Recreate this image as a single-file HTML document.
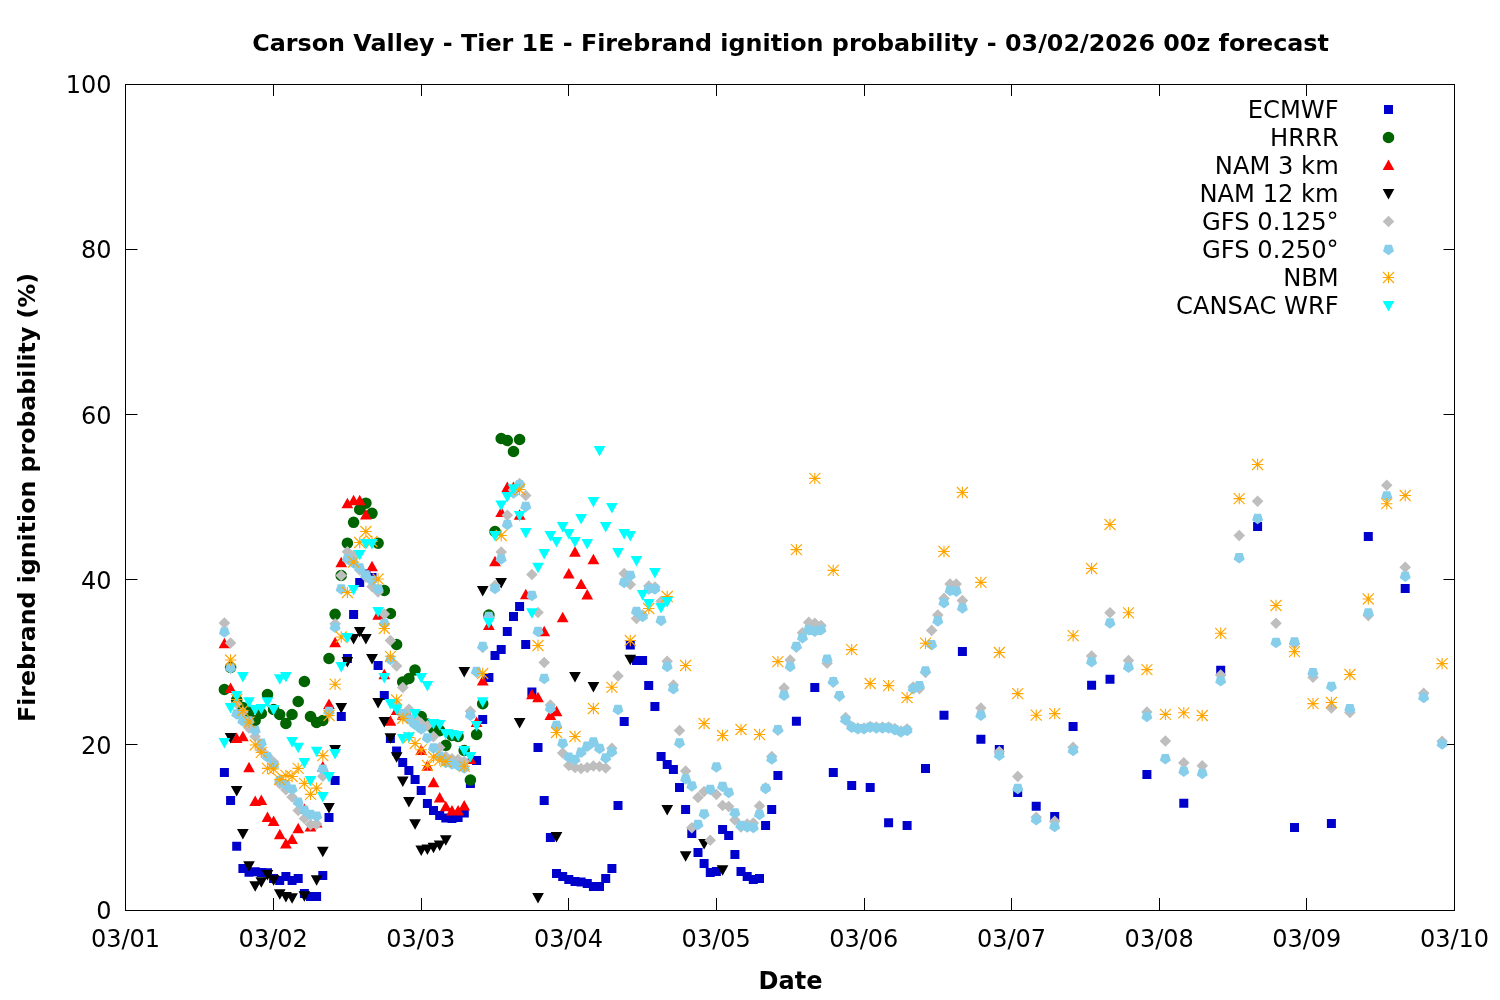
<!DOCTYPE html>
<html lang="en"><head><meta charset="utf-8"><title>Carson Valley - Tier 1E - Firebrand ignition probability</title>
<style>html,body{margin:0;padding:0;background:#fff}svg{display:block}text{font-family:"DejaVu Sans","Liberation Sans",sans-serif;fill:#000}</style></head><body>
<svg width="1500" height="1000" viewBox="0 0 1500 1000">
<rect width="1500" height="1000" fill="#fff"/>
<text x="790.6" y="51" text-anchor="middle" font-size="23.82" font-weight="bold">Carson Valley - Tier 1E - Firebrand ignition probability - 03/02/2026 00z forecast</text>
<text transform="translate(35,497.5) rotate(-90)" text-anchor="middle" font-size="23.68" font-weight="bold">Firebrand ignition probability (%)</text>
<text x="790.5" y="989" text-anchor="middle" font-size="24" font-weight="bold">Date</text>
<text x="125.5" y="946.5" text-anchor="middle" font-size="24">03/01</text>
<text x="273.2" y="946.5" text-anchor="middle" font-size="24">03/02</text>
<text x="420.8" y="946.5" text-anchor="middle" font-size="24">03/03</text>
<text x="568.5" y="946.5" text-anchor="middle" font-size="24">03/04</text>
<text x="716.2" y="946.5" text-anchor="middle" font-size="24">03/05</text>
<text x="863.8" y="946.5" text-anchor="middle" font-size="24">03/06</text>
<text x="1011.5" y="946.5" text-anchor="middle" font-size="24">03/07</text>
<text x="1159.2" y="946.5" text-anchor="middle" font-size="24">03/08</text>
<text x="1306.8" y="946.5" text-anchor="middle" font-size="24">03/09</text>
<text x="1454.5" y="946.5" text-anchor="middle" font-size="24">03/10</text>
<text x="111.5" y="919.2" text-anchor="end" font-size="24">0</text>
<text x="111.5" y="754" text-anchor="end" font-size="24">20</text>
<text x="111.5" y="588.8" text-anchor="end" font-size="24">40</text>
<text x="111.5" y="423.6" text-anchor="end" font-size="24">60</text>
<text x="111.5" y="258.4" text-anchor="end" font-size="24">80</text>
<text x="111.5" y="93.2" text-anchor="end" font-size="24">100</text>
<path d="M273.5 910.5v-12.5M273.5 84.5v11.5M421.5 910.5v-12.5M421.5 84.5v11.5M568.5 910.5v-12.5M568.5 84.5v11.5M716.5 910.5v-12.5M716.5 84.5v11.5M864.5 910.5v-12.5M864.5 84.5v11.5M1011.5 910.5v-12.5M1011.5 84.5v11.5M1159.5 910.5v-12.5M1159.5 84.5v11.5M1306.5 910.5v-12.5M1306.5 84.5v11.5M125.5 744.5h12M1454.5 744.5h-11M125.5 579.5h12M1454.5 579.5h-11M125.5 414.5h12M1454.5 414.5h-11M125.5 249.5h12M1454.5 249.5h-11" stroke="#000" stroke-width="1" fill="none"/>
<path d="M219.9 768h9v9h-9zM226.1 796h9v9h-9zM232.2 841.8h9v9h-9zM238.4 864h9v9h-9zM244.5 867.7h9v9h-9zM250.7 867.3h9v9h-9zM256.8 868.1h9v9h-9zM263 868.3h9v9h-9zM269.1 873.9h9v9h-9zM275.2 875.9h9v9h-9zM281.4 871.9h9v9h-9zM287.6 875.9h9v9h-9zM293.7 873.9h9v9h-9zM299.9 889h9v9h-9zM306 891.9h9v9h-9zM312.1 891.9h9v9h-9zM318.3 871h9v9h-9zM324.5 813h9v9h-9zM330.6 776h9v9h-9zM336.8 712h9v9h-9zM342.9 654h9v9h-9zM349.1 610h9v9h-9zM355.2 578h9v9h-9zM361.4 569.6h9v9h-9zM367.5 573.1h9v9h-9zM373.6 661h9v9h-9zM379.8 691h9v9h-9zM385.9 734h9v9h-9zM392.1 746.5h9v9h-9zM398.2 758h9v9h-9zM404.4 766h9v9h-9zM410.6 775h9v9h-9zM416.7 786h9v9h-9zM422.9 799h9v9h-9zM429 806h9v9h-9zM435.2 811h9v9h-9zM441.3 813.5h9v9h-9zM447.5 814h9v9h-9zM453.6 813h9v9h-9zM459.8 808.5h9v9h-9zM465.9 778.9h9v9h-9zM472.1 756h9v9h-9zM478.2 715h9v9h-9zM484.4 673h9v9h-9zM490.5 651h9v9h-9zM496.7 645h9v9h-9zM502.8 627h9v9h-9zM509 612h9v9h-9zM515.1 602h9v9h-9zM521.2 640h9v9h-9zM527.4 687.5h9v9h-9zM533.5 743h9v9h-9zM539.7 796h9v9h-9zM545.9 833h9v9h-9zM552 869h9v9h-9zM558.2 872h9v9h-9zM564.3 875h9v9h-9zM570.5 877h9v9h-9zM576.6 877.5h9v9h-9zM582.8 879h9v9h-9zM588.9 882h9v9h-9zM595 882h9v9h-9zM601.2 874h9v9h-9zM607.4 864h9v9h-9zM613.5 801h9v9h-9zM619.7 717h9v9h-9zM625.8 640.5h9v9h-9zM632 656h9v9h-9zM638.1 656h9v9h-9zM644.2 681h9v9h-9zM650.4 702h9v9h-9zM656.6 752h9v9h-9zM662.7 760h9v9h-9zM668.9 765h9v9h-9zM675 783h9v9h-9zM681.1 805h9v9h-9zM687.3 829h9v9h-9zM693.5 848h9v9h-9zM699.6 859h9v9h-9zM705.8 868h9v9h-9zM711.9 867h9v9h-9zM718.1 825h9v9h-9zM724.2 831h9v9h-9zM730.4 850h9v9h-9zM736.5 867h9v9h-9zM742.7 872h9v9h-9zM748.8 875h9v9h-9zM755 874h9v9h-9zM761.1 821h9v9h-9zM767.2 805h9v9h-9zM773.4 771h9v9h-9zM791.9 716.8h9v9h-9zM810.3 683h9v9h-9zM828.8 768h9v9h-9zM847.2 781.1h9v9h-9zM865.7 783h9v9h-9zM884.1 818.2h9v9h-9zM902.6 821.1h9v9h-9zM921 764h9v9h-9zM939.5 710.7h9v9h-9zM957.9 647h9v9h-9zM976.4 734.7h9v9h-9zM994.8 745.1h9v9h-9zM1013.2 788h9v9h-9zM1031.7 801.8h9v9h-9zM1050.2 811.9h9v9h-9zM1068.6 721.9h9v9h-9zM1087.1 680.8h9v9h-9zM1105.5 674.7h9v9h-9zM1142.4 770h9v9h-9zM1179.3 798.8h9v9h-9zM1216.2 665.7h9v9h-9zM1253.1 521.9h9v9h-9zM1290 823.1h9v9h-9zM1326.9 819.1h9v9h-9zM1363.8 532h9v9h-9zM1400.7 584h9v9h-9zM1384 105h9v9h-9z" fill="#0000CD"/>
<text x="1338.7" y="117.7" text-anchor="end" font-size="24.2">ECMWF</text>
<path d="M218.6 689.5a5.8 5.8 0 1 0 11.6 0a5.8 5.8 0 1 0 -11.6 0zM224.8 667.5a5.8 5.8 0 1 0 11.6 0a5.8 5.8 0 1 0 -11.6 0zM230.9 700a5.8 5.8 0 1 0 11.6 0a5.8 5.8 0 1 0 -11.6 0zM237.1 707.5a5.8 5.8 0 1 0 11.6 0a5.8 5.8 0 1 0 -11.6 0zM243.2 712a5.8 5.8 0 1 0 11.6 0a5.8 5.8 0 1 0 -11.6 0zM249.3 720.5a5.8 5.8 0 1 0 11.6 0a5.8 5.8 0 1 0 -11.6 0zM255.5 713.5a5.8 5.8 0 1 0 11.6 0a5.8 5.8 0 1 0 -11.6 0zM261.7 694.5a5.8 5.8 0 1 0 11.6 0a5.8 5.8 0 1 0 -11.6 0zM267.8 709.5a5.8 5.8 0 1 0 11.6 0a5.8 5.8 0 1 0 -11.6 0zM273.9 714.5a5.8 5.8 0 1 0 11.6 0a5.8 5.8 0 1 0 -11.6 0zM280.1 723.5a5.8 5.8 0 1 0 11.6 0a5.8 5.8 0 1 0 -11.6 0zM286.2 714.5a5.8 5.8 0 1 0 11.6 0a5.8 5.8 0 1 0 -11.6 0zM292.4 701.5a5.8 5.8 0 1 0 11.6 0a5.8 5.8 0 1 0 -11.6 0zM298.6 681.5a5.8 5.8 0 1 0 11.6 0a5.8 5.8 0 1 0 -11.6 0zM304.7 716.5a5.8 5.8 0 1 0 11.6 0a5.8 5.8 0 1 0 -11.6 0zM310.8 722.5a5.8 5.8 0 1 0 11.6 0a5.8 5.8 0 1 0 -11.6 0zM317 720.5a5.8 5.8 0 1 0 11.6 0a5.8 5.8 0 1 0 -11.6 0zM323.2 658.5a5.8 5.8 0 1 0 11.6 0a5.8 5.8 0 1 0 -11.6 0zM329.3 614.3a5.8 5.8 0 1 0 11.6 0a5.8 5.8 0 1 0 -11.6 0zM335.4 575.5a5.8 5.8 0 1 0 11.6 0a5.8 5.8 0 1 0 -11.6 0zM341.6 543.2a5.8 5.8 0 1 0 11.6 0a5.8 5.8 0 1 0 -11.6 0zM347.8 522.3a5.8 5.8 0 1 0 11.6 0a5.8 5.8 0 1 0 -11.6 0zM353.9 509.5a5.8 5.8 0 1 0 11.6 0a5.8 5.8 0 1 0 -11.6 0zM360.1 503.2a5.8 5.8 0 1 0 11.6 0a5.8 5.8 0 1 0 -11.6 0zM366.2 513.3a5.8 5.8 0 1 0 11.6 0a5.8 5.8 0 1 0 -11.6 0zM372.3 543.2a5.8 5.8 0 1 0 11.6 0a5.8 5.8 0 1 0 -11.6 0zM378.5 590.5a5.8 5.8 0 1 0 11.6 0a5.8 5.8 0 1 0 -11.6 0zM384.6 613.5a5.8 5.8 0 1 0 11.6 0a5.8 5.8 0 1 0 -11.6 0zM390.8 644.5a5.8 5.8 0 1 0 11.6 0a5.8 5.8 0 1 0 -11.6 0zM396.9 682a5.8 5.8 0 1 0 11.6 0a5.8 5.8 0 1 0 -11.6 0zM403.1 678.5a5.8 5.8 0 1 0 11.6 0a5.8 5.8 0 1 0 -11.6 0zM409.2 670a5.8 5.8 0 1 0 11.6 0a5.8 5.8 0 1 0 -11.6 0zM415.4 716.5a5.8 5.8 0 1 0 11.6 0a5.8 5.8 0 1 0 -11.6 0zM421.6 724a5.8 5.8 0 1 0 11.6 0a5.8 5.8 0 1 0 -11.6 0zM427.7 728.8a5.8 5.8 0 1 0 11.6 0a5.8 5.8 0 1 0 -11.6 0zM433.9 730.6a5.8 5.8 0 1 0 11.6 0a5.8 5.8 0 1 0 -11.6 0zM440 745.3a5.8 5.8 0 1 0 11.6 0a5.8 5.8 0 1 0 -11.6 0zM446.2 735.4a5.8 5.8 0 1 0 11.6 0a5.8 5.8 0 1 0 -11.6 0zM452.3 736.5a5.8 5.8 0 1 0 11.6 0a5.8 5.8 0 1 0 -11.6 0zM458.4 750.5a5.8 5.8 0 1 0 11.6 0a5.8 5.8 0 1 0 -11.6 0zM464.6 780a5.8 5.8 0 1 0 11.6 0a5.8 5.8 0 1 0 -11.6 0zM470.8 734.5a5.8 5.8 0 1 0 11.6 0a5.8 5.8 0 1 0 -11.6 0zM476.9 703.7a5.8 5.8 0 1 0 11.6 0a5.8 5.8 0 1 0 -11.6 0zM483.1 615a5.8 5.8 0 1 0 11.6 0a5.8 5.8 0 1 0 -11.6 0zM489.2 531.5a5.8 5.8 0 1 0 11.6 0a5.8 5.8 0 1 0 -11.6 0zM495.4 438.5a5.8 5.8 0 1 0 11.6 0a5.8 5.8 0 1 0 -11.6 0zM501.5 440.5a5.8 5.8 0 1 0 11.6 0a5.8 5.8 0 1 0 -11.6 0zM507.7 451.5a5.8 5.8 0 1 0 11.6 0a5.8 5.8 0 1 0 -11.6 0zM513.8 439.5a5.8 5.8 0 1 0 11.6 0a5.8 5.8 0 1 0 -11.6 0zM1382.7 137.5a5.8 5.8 0 1 0 11.6 0a5.8 5.8 0 1 0 -11.6 0z" fill="#006400"/>
<text x="1338.7" y="145.7" text-anchor="end" font-size="24.2">HRRR</text>
<path d="M218.6 648.2L224.4 637.8L230.2 648.2zM224.7 693.1L230.6 682.6L236.4 693.1zM230.8 743L236.7 732.5L242.5 743zM237 741.3L242.9 730.8L248.7 741.3zM243.2 772.2L249 761.8L254.8 772.2zM249.3 805.9L255.2 795.4L261 805.9zM255.5 805.1L261.3 794.6L267.2 805.1zM261.6 822.1L267.5 811.6L273.3 822.1zM267.8 826.1L273.6 815.6L279.5 826.1zM273.9 839.2L279.8 828.8L285.6 839.2zM280 848.4L285.9 837.9L291.8 848.4zM286.2 844.1L292.1 833.6L297.9 844.1zM292.4 833.3L298.2 822.8L304.1 833.3zM298.5 813.9L304.4 803.4L310.2 813.9zM304.6 831.4L310.5 820.9L316.4 831.4zM310.8 827.6L316.6 817.1L322.5 827.6zM316.9 771.5L322.8 761L328.7 771.5zM323.1 709L329 698.5L334.8 709zM329.2 647.3L335.1 636.8L341 647.3zM335.4 567.2L341.2 556.8L347.1 567.2zM341.5 508.2L347.4 497.8L353.2 508.2zM347.7 505.2L353.6 494.8L359.4 505.2zM353.9 505.2L359.7 494.8L365.6 505.2zM360 519.4L365.9 508.9L371.7 519.4zM366.1 571.2L372 560.8L377.9 571.2zM372.3 619.7L378.1 609.2L384 619.7zM378.4 679.2L384.3 668.8L390.2 679.2zM384.6 725.8L390.4 715.3L396.3 725.8zM390.8 715L396.6 704.5L402.5 715zM396.9 719.7L402.8 709.2L408.6 719.7zM403.1 721L408.9 710.5L414.8 721zM409.2 725.5L415.1 715L420.9 725.5zM415.4 754.9L421.2 744.4L427.1 754.9zM421.5 770.7L427.4 760.2L433.2 770.7zM427.6 787.2L433.5 776.8L439.4 787.2zM433.8 802.4L439.7 791.9L445.5 802.4zM439.9 811.3L445.8 800.8L451.7 811.3zM446.1 815.4L452 804.9L457.8 815.4zM452.2 815.4L458.1 804.9L464 815.4zM458.4 810.4L464.2 799.9L470.1 810.4zM464.6 763.9L470.4 753.4L476.3 763.9zM470.7 727.1L476.6 716.6L482.4 727.1zM476.9 685.6L482.7 675.1L488.6 685.6zM483 629.9L488.9 619.4L494.7 629.9zM489.1 566.2L495 555.8L500.9 566.2zM495.3 516.9L501.2 506.4L507 516.9zM501.4 491.9L507.3 481.4L513.1 491.9zM507.6 491.9L513.5 481.4L519.3 491.9zM513.8 519.7L519.6 509.3L525.5 519.7zM519.9 599.2L525.8 588.8L531.6 599.2zM526.1 699.2L531.9 688.8L537.8 699.2zM532.2 702.2L538 691.8L543.9 702.2zM538.4 636.2L544.2 625.8L550.1 636.2zM544.5 719.9L550.4 709.4L556.2 719.9zM550.6 716.2L556.5 705.8L562.4 716.2zM556.8 622.2L562.7 611.8L568.5 622.2zM562.9 578.4L568.8 567.9L574.6 578.4zM569.1 556.7L575 546.2L580.8 556.7zM575.2 589.1L581.1 578.6L587 589.1zM581.4 599.4L587.2 588.9L593.1 599.4zM587.6 564.3L593.4 553.8L599.3 564.3zM1382.7 170L1388.5 159.6L1394.3 170z" fill="#FF0000"/>
<text x="1338.7" y="173.7" text-anchor="end" font-size="24.2">NAM 3 km</text>
<path d="M224.7 733.1L236.4 733.1L230.6 743.6zM230.8 786L242.5 786L236.7 796.5zM237 829L248.7 829L242.9 839.5zM243.2 861.2L254.8 861.2L249 871.7zM249.3 881.2L261 881.2L255.2 891.7zM255.5 877.2L267.2 877.2L261.3 887.7zM261.6 870.1L273.3 870.1L267.5 880.6zM267.8 875.2L279.5 875.2L273.6 885.7zM273.9 889.2L285.6 889.2L279.8 899.7zM280 892L291.8 892L285.9 902.5zM286.2 893.2L297.9 893.2L292.1 903.7zM298.5 891.2L310.2 891.2L304.4 901.7zM310.8 875.2L322.5 875.2L316.6 885.7zM316.9 846.7L328.7 846.7L322.8 857.2zM323.1 803.1L334.8 803.1L329 813.6zM329.2 745L341 745L335.1 755.5zM335.4 703L347.1 703L341.2 713.5zM341.5 657.1L353.2 657.1L347.4 667.6zM347.7 634L359.4 634L353.6 644.5zM353.9 627.1L365.6 627.1L359.7 637.6zM360 634L371.7 634L365.9 644.5zM366.1 654L377.9 654L372 664.5zM372.3 698L384 698L378.1 708.5zM378.4 717.1L390.2 717.1L384.3 727.6zM384.6 733.2L396.3 733.2L390.4 743.7zM390.8 752.2L402.5 752.2L396.6 762.7zM396.9 776.4L408.6 776.4L402.8 786.9zM403.1 797.1L414.8 797.1L408.9 807.6zM409.2 819.2L420.9 819.2L415.1 829.7zM415.4 845.5L427.1 845.5L421.2 856zM421.5 844.4L433.2 844.4L427.4 854.9zM427.6 842.8L439.4 842.8L433.5 853.2zM433.8 840.4L445.5 840.4L439.7 850.9zM439.9 835.3L451.7 835.3L445.8 845.8zM458.4 667.1L470.1 667.1L464.2 677.6zM476.9 586L488.6 586L482.7 596.5zM495.3 578L507 578L501.2 588.5zM513.8 718L525.5 718L519.6 728.5zM532.2 893L543.9 893L538 903.5zM550.6 832.1L562.4 832.1L556.5 842.6zM569.1 672L580.8 672L575 682.5zM587.6 682L599.3 682L593.4 692.5zM624.4 654.8L636.1 654.8L630.3 665.2zM661.4 805L673.1 805L667.2 815.5zM679.8 851.2L691.5 851.2L685.6 861.7zM698.2 839.1L710 839.1L704.1 849.6zM716.7 865.2L728.4 865.2L722.6 875.7zM1382.7 189L1394.3 189L1388.5 199.4z" fill="#000000"/>
<text x="1338.7" y="201.7" text-anchor="end" font-size="24.2">NAM 12 km</text>
<path d="M218.6 623L224.4 617.2L230.2 623L224.4 628.8zM224.8 643L230.6 637.2L236.4 643L230.6 648.8zM230.9 703.5L236.7 697.7L242.5 703.5L236.7 709.3zM237.1 712L242.9 706.2L248.7 712L242.9 717.8zM243.2 728L249 722.2L254.8 728L249 733.8zM249.3 736.5L255.2 730.7L260.9 736.5L255.2 742.3zM255.5 750L261.3 744.2L267.1 750L261.3 755.8zM261.7 756L267.5 750.2L273.3 756L267.5 761.8zM267.8 762L273.6 756.2L279.4 762L273.6 767.8zM273.9 783.7L279.8 777.9L285.6 783.7L279.8 789.5zM280.1 789.8L285.9 784L291.7 789.8L285.9 795.6zM286.2 797L292.1 791.2L297.9 797L292.1 802.8zM292.4 810.5L298.2 804.7L304 810.5L298.2 816.3zM298.6 818.5L304.4 812.7L310.2 818.5L304.4 824.3zM304.7 824.6L310.5 818.8L316.3 824.6L310.5 830.4zM310.8 824.1L316.6 818.3L322.4 824.1L316.6 829.9zM317 776.3L322.8 770.5L328.6 776.3L322.8 782.1zM323.2 713L329 707.2L334.8 713L329 718.8zM329.3 623.7L335.1 617.9L340.9 623.7L335.1 629.5zM335.4 575.5L341.2 569.7L347.1 575.5L341.2 581.3zM341.6 551.8L347.4 546L353.2 551.8L347.4 557.6zM347.8 555.5L353.6 549.7L359.4 555.5L353.6 561.3zM353.9 570L359.7 564.2L365.5 570L359.7 575.8zM360.1 577L365.9 571.2L371.7 577L365.9 582.8zM366.2 586.5L372 580.7L377.8 586.5L372 592.3zM372.3 592L378.1 586.2L383.9 592L378.1 597.8zM378.5 614L384.3 608.2L390.1 614L384.3 619.8zM384.6 640.5L390.4 634.7L396.2 640.5L390.4 646.3zM390.8 666L396.6 660.2L402.4 666L396.6 671.8zM396.9 687.5L402.8 681.7L408.6 687.5L402.8 693.3zM403.1 709.3L408.9 703.5L414.7 709.3L408.9 715.1zM409.2 718L415.1 712.2L420.9 718L415.1 723.8zM415.4 723.4L421.2 717.6L427 723.4L421.2 729.2zM421.6 725.8L427.4 720L433.2 725.8L427.4 731.6zM427.7 736.6L433.5 730.8L439.3 736.6L433.5 742.4zM433.9 747.5L439.7 741.7L445.5 747.5L439.7 753.3zM440 756.5L445.8 750.7L451.6 756.5L445.8 762.3zM446.2 758.7L452 752.9L457.8 758.7L452 764.5zM452.3 759.5L458.1 753.7L463.9 759.5L458.1 765.3zM458.4 761.5L464.2 755.7L470.1 761.5L464.2 767.3zM464.6 711.2L470.4 705.4L476.2 711.2L470.4 717zM470.8 672.5L476.6 666.7L482.4 672.5L476.6 678.3zM476.9 647.5L482.7 641.7L488.5 647.5L482.7 653.3zM483.1 617.5L488.9 611.7L494.7 617.5L488.9 623.3zM489.2 585.5L495 579.7L500.8 585.5L495 591.3zM495.4 552L501.2 546.2L507 552L501.2 557.8zM501.5 515.2L507.3 509.4L513.1 515.2L507.3 521zM507.7 490L513.5 484.2L519.2 490L513.5 495.8zM513.8 483.5L519.6 477.7L525.4 483.5L519.6 489.3zM520 495.5L525.8 489.7L531.5 495.5L525.8 501.3zM526.1 574.5L531.9 568.7L537.7 574.5L531.9 580.3zM532.2 612.5L538 606.7L543.8 612.5L538 618.3zM538.4 662.5L544.2 656.7L550 662.5L544.2 668.3zM544.6 705L550.4 699.2L556.1 705L550.4 710.8zM550.7 726.3L556.5 720.5L562.3 726.3L556.5 732.1zM556.9 753L562.7 747.2L568.5 753L562.7 758.8zM563 765.5L568.8 759.7L574.6 765.5L568.8 771.3zM569.2 767.5L575 761.7L580.8 767.5L575 773.3zM575.3 768.5L581.1 762.7L586.9 768.5L581.1 774.3zM581.5 767.5L587.2 761.7L593 767.5L587.2 773.3zM587.6 766L593.4 760.2L599.2 766L593.4 771.8zM593.8 766.5L599.5 760.7L605.3 766.5L599.5 772.3zM599.9 768L605.7 762.2L611.5 768L605.7 773.8zM606.1 748.3L611.9 742.5L617.6 748.3L611.9 754.1zM612.2 676L618 670.2L623.8 676L618 681.8zM618.4 573.5L624.2 567.7L630 573.5L624.2 579.3zM624.5 584.5L630.3 578.7L636.1 584.5L630.3 590.3zM630.7 618.5L636.5 612.7L642.2 618.5L636.5 624.3zM636.8 615L642.6 609.2L648.4 615L642.6 620.8zM643 586L648.8 580.2L654.5 586L648.8 591.8zM649.1 587L654.9 581.2L660.7 587L654.9 592.8zM655.3 601.2L661.1 595.4L666.9 601.2L661.1 607zM661.4 661.3L667.2 655.5L673 661.3L667.2 667.1zM667.6 685L673.4 679.2L679.1 685L673.4 690.8zM673.7 730.5L679.5 724.7L685.3 730.5L679.5 736.3zM679.9 771L685.6 765.2L691.4 771L685.6 776.8zM686 827.8L691.8 822L697.6 827.8L691.8 833.6zM692.2 797.5L698 791.7L703.8 797.5L698 803.3zM698.3 791.5L704.1 785.7L709.9 791.5L704.1 797.3zM704.5 840.3L710.2 834.5L716 840.3L710.2 846.1zM710.6 794.5L716.4 788.7L722.2 794.5L716.4 800.3zM716.8 805.5L722.6 799.7L728.4 805.5L722.6 811.3zM722.9 806.5L728.7 800.7L734.5 806.5L728.7 812.3zM729.1 820L734.9 814.2L740.6 820L734.9 825.8zM735.2 827L741 821.2L746.8 827L741 832.8zM741.4 824L747.2 818.2L753 824L747.2 829.8zM747.5 823L753.3 817.2L759.1 823L753.3 828.8zM753.7 806L759.5 800.2L765.2 806L759.5 811.8zM759.8 787.8L765.6 782L771.4 787.8L765.6 793.6zM766 756.5L771.8 750.7L777.5 756.5L771.8 762.3zM772.1 730.3L777.9 724.5L783.7 730.3L777.9 736.1zM778.3 688L784.1 682.2L789.9 688L784.1 693.8zM784.4 660L790.2 654.2L796 660L790.2 665.8zM790.6 647.2L796.4 641.4L802.1 647.2L796.4 653zM796.7 632.8L802.5 627L808.3 632.8L802.5 638.6zM802.9 622.4L808.7 616.6L814.5 622.4L808.7 628.2zM809 623.2L814.8 617.4L820.6 623.2L814.8 629zM815.2 625.6L821 619.8L826.8 625.6L821 631.4zM821.3 663.2L827.1 657.4L832.9 663.2L827.1 669zM827.5 682.1L833.2 676.3L839 682.1L833.2 687.9zM833.6 696.2L839.4 690.4L845.2 696.2L839.4 702zM839.8 717.6L845.6 711.8L851.4 717.6L845.6 723.4zM845.9 726.5L851.7 720.7L857.5 726.5L851.7 732.3zM852.1 728L857.9 722.2L863.6 728L857.9 733.8zM858.2 728L864 722.2L869.8 728L864 733.8zM864.4 726.5L870.2 720.7L876 726.5L870.2 732.3zM870.5 727L876.3 721.2L882.1 727L876.3 732.8zM876.7 727L882.5 721.2L888.2 727L882.5 732.8zM882.8 727L888.6 721.2L894.4 727L888.6 732.8zM889 728.5L894.8 722.7L900.5 728.5L894.8 734.3zM895.1 731L900.9 725.2L906.7 731L900.9 736.8zM901.3 729L907.1 723.2L912.9 729L907.1 734.8zM907.4 687L913.2 681.2L919 687L913.2 692.8zM913.6 688.8L919.4 683L925.1 688.8L919.4 694.6zM919.7 672.5L925.5 666.7L931.3 672.5L925.5 678.3zM925.9 630.4L931.7 624.6L937.5 630.4L931.7 636.2zM932 615L937.8 609.2L943.6 615L937.8 620.8zM938.2 598.4L944 592.6L949.8 598.4L944 604.2zM944.3 584L950.1 578.2L955.9 584L950.1 589.8zM950.5 584L956.2 578.2L962 584L956.2 589.8zM956.6 600.6L962.4 594.8L968.2 600.6L962.4 606.4zM975.1 708L980.9 702.2L986.6 708L980.9 713.8zM993.5 751.6L999.3 745.8L1005.1 751.6L999.3 757.4zM1012 776.4L1017.8 770.6L1023.5 776.4L1017.8 782.2zM1030.4 817.2L1036.2 811.4L1042 817.2L1036.2 823zM1048.9 821.2L1054.7 815.4L1060.5 821.2L1054.7 827zM1067.3 747.2L1073.1 741.4L1078.9 747.2L1073.1 753zM1085.8 656L1091.6 650.2L1097.4 656L1091.6 661.8zM1104.2 612.8L1110 607L1115.8 612.8L1110 618.6zM1122.7 660.6L1128.5 654.8L1134.2 660.6L1128.5 666.4zM1141.1 712L1146.9 706.2L1152.7 712L1146.9 717.8zM1159.6 741L1165.4 735.2L1171.2 741L1165.4 746.8zM1178 762.8L1183.8 757L1189.6 762.8L1183.8 768.6zM1196.5 765.8L1202.2 760L1208 765.8L1202.2 771.6zM1214.9 675L1220.7 669.2L1226.5 675L1220.7 680.8zM1233.4 535.5L1239.2 529.7L1245 535.5L1239.2 541.3zM1251.8 501.3L1257.6 495.5L1263.4 501.3L1257.6 507.1zM1270.2 623.3L1276 617.5L1281.8 623.3L1276 629.1zM1288.7 644L1294.5 638.2L1300.3 644L1294.5 649.8zM1307.2 677.2L1313 671.4L1318.8 677.2L1313 683zM1325.6 708L1331.4 702.2L1337.2 708L1331.4 713.8zM1344.1 712.4L1349.9 706.6L1355.7 712.4L1349.9 718.2zM1362.5 615.6L1368.3 609.8L1374.1 615.6L1368.3 621.4zM1381 485.3L1386.8 479.5L1392.5 485.3L1386.8 491.1zM1399.4 567.2L1405.2 561.4L1411 567.2L1405.2 573zM1417.9 693.2L1423.7 687.4L1429.5 693.2L1423.7 699zM1436.3 741.2L1442.1 735.4L1447.9 741.2L1442.1 747zM1382.7 221.5L1388.5 215.7L1394.3 221.5L1388.5 227.3z" fill="#BEBEBE"/>
<text x="1338.7" y="229.7" text-anchor="end" font-size="24.2">GFS 0.125°</text>
<path d="M227.8 627.3L221 627.3L218.9 633.8L224.4 637.8L229.9 633.8zM234 663.3L227.1 663.3L225 669.8L230.6 673.8L236.1 669.8zM240.1 709.3L233.3 709.3L231.2 715.8L236.7 719.8L242.2 715.8zM246.3 716.3L239.4 716.3L237.3 722.8L242.9 726.8L248.4 722.8zM252.4 716.3L245.6 716.3L243.5 722.8L249 726.8L254.5 722.8zM258.6 725.8L251.7 725.8L249.6 732.3L255.2 736.3L260.7 732.3zM264.7 738.5L257.9 738.5L255.8 745L261.3 749L266.8 745zM270.9 752.3L264 752.3L261.9 758.8L267.5 762.8L273 758.8zM277 760.7L270.2 760.7L268.1 767.2L273.6 771.2L279.1 767.2zM283.2 775.8L276.3 775.8L274.2 782.3L279.8 786.3L285.3 782.3zM289.3 780.1L282.5 780.1L280.4 786.6L285.9 790.6L291.4 786.6zM295.5 784.6L288.6 784.6L286.5 791.1L292.1 795.1L297.6 791.1zM301.6 797.6L294.8 797.6L292.7 804.1L298.2 808.1L303.7 804.1zM307.8 805.6L300.9 805.6L298.8 812.1L304.4 816.1L309.9 812.1zM313.9 809.7L307.1 809.7L305 816.2L310.5 820.2L316 816.2zM320.1 811.6L313.2 811.6L311.1 818.1L316.6 822.1L322.2 818.1zM326.2 764.5L319.4 764.5L317.3 771L322.8 775L328.3 771zM332.4 706.8L325.5 706.8L323.4 713.3L329 717.3L334.5 713.3zM338.5 622.6L331.7 622.6L329.6 629.1L335.1 633.1L340.6 629.1zM344.7 584.3L337.8 584.3L335.7 590.8L341.2 594.8L346.8 590.8zM350.8 554.3L344 554.3L341.9 560.8L347.4 564.8L352.9 560.8zM357 558.3L350.1 558.3L348 564.8L353.6 568.8L359.1 564.8zM363.1 563.3L356.3 563.3L354.2 569.8L359.7 573.8L365.2 569.8zM369.3 570.3L362.4 570.3L360.3 576.8L365.9 580.8L371.4 576.8zM375.4 575.8L368.6 575.8L366.5 582.3L372 586.3L377.5 582.3zM381.6 584.3L374.7 584.3L372.6 590.8L378.1 594.8L383.7 590.8zM387.7 618.8L380.9 618.8L378.8 625.3L384.3 629.3L389.8 625.3zM393.9 654.8L387 654.8L384.9 661.3L390.4 665.3L396 661.3zM400 701.3L393.2 701.3L391.1 707.8L396.6 711.8L402.1 707.8zM406.2 709.1L399.3 709.1L397.2 715.6L402.8 719.6L408.3 715.6zM412.3 714.3L405.5 714.3L403.4 720.8L408.9 724.8L414.4 720.8zM418.5 719.8L411.6 719.8L409.5 726.3L415.1 730.3L420.6 726.3zM424.6 724.3L417.8 724.3L415.7 730.8L421.2 734.8L426.7 730.8zM430.8 733.3L423.9 733.3L421.8 739.8L427.4 743.8L432.9 739.8zM436.9 743.3L430.1 743.3L428 749.8L433.5 753.8L439 749.8zM443.1 751.5L436.2 751.5L434.1 758L439.7 762L445.2 758zM449.2 757.8L442.4 757.8L440.3 764.3L445.8 768.3L451.3 764.3zM455.4 759.3L448.5 759.3L446.4 765.8L452 769.8L457.5 765.8zM461.5 760.8L454.7 760.8L452.6 767.3L458.1 771.3L463.6 767.3zM467.7 763.3L460.8 763.3L458.7 769.8L464.2 773.8L469.8 769.8zM473.8 710.6L467 710.6L464.9 717.1L470.4 721.1L475.9 717.1zM480 666.8L473.1 666.8L471 673.3L476.6 677.3L482.1 673.3zM486.1 641.8L479.3 641.8L477.2 648.3L482.7 652.3L488.2 648.3zM492.3 611.8L485.4 611.8L483.3 618.3L488.9 622.3L494.4 618.3zM498.4 583.8L491.6 583.8L489.5 590.3L495 594.3L500.5 590.3zM504.6 554.3L497.7 554.3L495.6 560.8L501.2 564.8L506.7 560.8zM510.7 519.8L503.9 519.8L501.8 526.3L507.3 530.3L512.8 526.3zM516.9 488.3L510 488.3L507.9 494.8L513.5 498.8L519 494.8zM523 480.3L516.2 480.3L514.1 486.8L519.6 490.8L525.1 486.8zM529.2 501.8L522.3 501.8L520.2 508.3L525.8 512.3L531.3 508.3zM535.3 590.8L528.5 590.8L526.4 597.3L531.9 601.3L537.4 597.3zM541.5 626.8L534.6 626.8L532.5 633.3L538 637.3L543.6 633.3zM547.6 673.8L540.8 673.8L538.7 680.3L544.2 684.3L549.7 680.3zM553.8 703.8L546.9 703.8L544.8 710.3L550.4 714.3L555.9 710.3zM559.9 720.8L553.1 720.8L551 727.3L556.5 731.3L562 727.3zM566.1 738.8L559.2 738.8L557.1 745.3L562.7 749.3L568.2 745.3zM572.2 752.6L565.4 752.6L563.3 759.1L568.8 763.1L574.3 759.1zM578.4 754.8L571.5 754.8L569.4 761.3L575 765.3L580.5 761.3zM584.5 747.5L577.7 747.5L575.6 754L581.1 758L586.6 754zM590.7 741.6L583.8 741.6L581.7 748.1L587.2 752.1L592.8 748.1zM596.8 737.3L590 737.3L587.9 743.8L593.4 747.8L598.9 743.8zM603 743.8L596.1 743.8L594 750.3L599.5 754.3L605.1 750.3zM609.1 753.3L602.3 753.3L600.2 759.8L605.7 763.8L611.2 759.8zM615.3 747.1L608.4 747.1L606.3 753.6L611.9 757.6L617.4 753.6zM621.4 704.8L614.6 704.8L612.5 711.3L618 715.3L623.5 711.3zM627.6 577.8L620.7 577.8L618.6 584.3L624.2 588.3L629.7 584.3zM633.7 570.8L626.9 570.8L624.8 577.3L630.3 581.3L635.8 577.3zM639.9 606.8L633 606.8L630.9 613.3L636.5 617.3L642 613.3zM646 611.8L639.2 611.8L637.1 618.3L642.6 622.3L648.1 618.3zM652.2 584.3L645.3 584.3L643.2 590.8L648.8 594.8L654.3 590.8zM658.3 584.3L651.5 584.3L649.4 590.8L654.9 594.8L660.4 590.8zM664.5 615.8L657.6 615.8L655.5 622.3L661.1 626.3L666.6 622.3zM670.6 661.8L663.8 661.8L661.7 668.3L667.2 672.3L672.7 668.3zM676.8 684.1L669.9 684.1L667.8 690.6L673.4 694.6L678.9 690.6zM682.9 738.3L676.1 738.3L674 744.8L679.5 748.8L685 744.8zM689.1 774.3L682.2 774.3L680.1 780.8L685.6 784.8L691.2 780.8zM695.2 781.3L688.4 781.3L686.3 787.8L691.8 791.8L697.3 787.8zM701.4 819.8L694.5 819.8L692.4 826.3L698 830.3L703.5 826.3zM707.5 809.3L700.7 809.3L698.6 815.8L704.1 819.8L709.6 815.8zM713.7 784.8L706.8 784.8L704.7 791.3L710.2 795.3L715.8 791.3zM719.8 762.3L713 762.3L710.9 768.8L716.4 772.8L721.9 768.8zM726 781.8L719.1 781.8L717 788.3L722.6 792.3L728.1 788.3zM732.1 787.8L725.3 787.8L723.2 794.3L728.7 798.3L734.2 794.3zM738.3 808.3L731.4 808.3L729.3 814.8L734.9 818.8L740.4 814.8zM744.4 820.8L737.6 820.8L735.5 827.3L741 831.3L746.5 827.3zM750.6 822.3L743.7 822.3L741.6 828.8L747.2 832.8L752.7 828.8zM756.7 822.8L749.9 822.8L747.8 829.3L753.3 833.3L758.8 829.3zM762.9 809.8L756 809.8L753.9 816.3L759.5 820.3L765 816.3zM769 783.8L762.2 783.8L760.1 790.3L765.6 794.3L771.1 790.3zM775.2 754.3L768.3 754.3L766.2 760.8L771.8 764.8L777.3 760.8zM781.3 724.9L774.5 724.9L772.4 731.4L777.9 735.4L783.4 731.4zM787.5 690.6L780.6 690.6L778.5 697.1L784.1 701.1L789.6 697.1zM793.6 661.7L786.8 661.7L784.7 668.2L790.2 672.2L795.7 668.2zM799.8 641.7L792.9 641.7L790.8 648.2L796.4 652.2L801.9 648.2zM805.9 632.9L799.1 632.9L797 639.4L802.5 643.4L808 639.4zM812.1 624.9L805.2 624.9L803.1 631.4L808.7 635.4L814.2 631.4zM818.2 626.5L811.4 626.5L809.3 633L814.8 637L820.3 633zM824.4 624.9L817.5 624.9L815.4 631.4L821 635.4L826.5 631.4zM830.5 654.5L823.7 654.5L821.6 661L827.1 665L832.6 661zM836.7 676.9L829.8 676.9L827.7 683.4L833.2 687.4L838.8 683.4zM842.8 691L836 691L833.9 697.5L839.4 701.5L844.9 697.5zM849 715.3L842.1 715.3L840 721.8L845.6 725.8L851.1 721.8zM855.1 722.5L848.3 722.5L846.2 729L851.7 733L857.2 729zM861.3 724.1L854.4 724.1L852.3 730.6L857.9 734.6L863.4 730.6zM867.4 724.1L860.6 724.1L858.5 730.6L864 734.6L869.5 730.6zM873.6 722.5L866.7 722.5L864.6 729L870.2 733L875.7 729zM879.7 723.3L872.9 723.3L870.8 729.8L876.3 733.8L881.8 729.8zM885.9 723.3L879 723.3L876.9 729.8L882.5 733.8L888 729.8zM892 723.3L885.2 723.3L883.1 729.8L888.6 733.8L894.1 729.8zM898.2 724.9L891.3 724.9L889.2 731.4L894.8 735.4L900.3 731.4zM904.3 727.3L897.5 727.3L895.4 733.8L900.9 737.8L906.4 733.8zM910.5 725.7L903.6 725.7L901.5 732.2L907.1 736.2L912.6 732.2zM916.6 684.1L909.8 684.1L907.7 690.6L913.2 694.6L918.7 690.6zM922.8 680.9L915.9 680.9L913.8 687.4L919.4 691.4L924.9 687.4zM928.9 666.2L922.1 666.2L920 672.7L925.5 676.7L931 672.7zM935.1 640.1L928.2 640.1L926.1 646.6L931.7 650.6L937.2 646.6zM941.2 616.3L934.4 616.3L932.3 622.8L937.8 626.8L943.3 622.8zM947.4 598.1L940.5 598.1L938.4 604.6L944 608.6L949.5 604.6zM953.5 585.7L946.7 585.7L944.6 592.2L950.1 596.2L955.6 592.2zM959.7 586.5L952.8 586.5L950.7 593L956.2 597L961.8 593zM965.8 603.3L959 603.3L956.9 609.8L962.4 613.8L967.9 609.8zM984.3 710.5L977.4 710.5L975.3 717L980.9 721L986.4 717zM1002.7 750.5L995.9 750.5L993.8 757L999.3 761L1004.8 757zM1021.2 783.7L1014.3 783.7L1012.2 790.2L1017.8 794.2L1023.3 790.2zM1039.6 814.9L1032.8 814.9L1030.7 821.4L1036.2 825.4L1041.7 821.4zM1058.1 821.8L1051.2 821.8L1049.1 828.3L1054.7 832.3L1060.2 828.3zM1076.5 745.7L1069.7 745.7L1067.6 752.2L1073.1 756.2L1078.6 752.2zM1095 656.9L1088.1 656.9L1086 663.4L1091.6 667.4L1097.1 663.4zM1113.4 618.2L1106.6 618.2L1104.5 624.7L1110 628.7L1115.5 624.7zM1131.9 662.5L1125 662.5L1122.9 669L1128.5 673L1134 669zM1150.3 711.8L1143.5 711.8L1141.4 718.3L1146.9 722.3L1152.4 718.3zM1168.8 753.9L1161.9 753.9L1159.8 760.4L1165.4 764.4L1170.9 760.4zM1187.2 766.6L1180.4 766.6L1178.3 773.1L1183.8 777.1L1189.3 773.1zM1205.7 768.7L1198.8 768.7L1196.7 775.2L1202.2 779.2L1207.8 775.2zM1224.1 675.9L1217.3 675.9L1215.2 682.4L1220.7 686.4L1226.2 682.4zM1242.6 552.9L1235.7 552.9L1233.6 559.4L1239.2 563.4L1244.7 559.4zM1261 513.7L1254.2 513.7L1252.1 520.2L1257.6 524.2L1263.1 520.2zM1279.5 637.8L1272.6 637.8L1270.5 644.3L1276 648.3L1281.6 644.3zM1297.9 637.3L1291.1 637.3L1289 643.8L1294.5 647.8L1300 643.8zM1316.4 668L1309.5 668L1307.4 674.5L1313 678.5L1318.5 674.5zM1334.8 681.8L1328 681.8L1325.9 688.3L1331.4 692.3L1336.9 688.3zM1353.3 704L1346.4 704L1344.3 710.5L1349.9 714.5L1355.4 710.5zM1371.7 608.2L1364.9 608.2L1362.8 614.7L1368.3 618.7L1373.8 614.7zM1390.2 491.3L1383.3 491.3L1381.2 497.8L1386.8 501.8L1392.3 497.8zM1408.6 571.6L1401.8 571.6L1399.7 578.1L1405.2 582.1L1410.7 578.1zM1427.1 692.8L1420.2 692.8L1418.1 699.3L1423.7 703.3L1429.2 699.3zM1445.5 739.3L1438.7 739.3L1436.6 745.8L1442.1 749.8L1447.6 745.8zM1391.9 244.8L1385.1 244.8L1383 251.3L1388.5 255.3L1394 251.3z" fill="#87CEEB"/>
<text x="1338.7" y="257.7" text-anchor="end" font-size="24.2">GFS 0.250°</text>
<path d="M224.9 660h11.4M230.6 654.3v11.4M225.1 654.5l11 11M225.1 665.5l11 -11M231 699.5h11.4M236.7 693.8v11.4M231.2 694l11 11M231.2 705l11 -11M237.2 710.5h11.4M242.9 704.8v11.4M237.4 705l11 11M237.4 716l11 -11M243.3 722h11.4M249 716.3v11.4M243.5 716.5l11 11M243.5 727.5l11 -11M249.5 745h11.4M255.2 739.3v11.4M249.7 739.5l11 11M249.7 750.5l11 -11M255.6 752.4h11.4M261.3 746.7v11.4M255.8 746.9l11 11M255.8 757.9l11 -11M261.8 768.4h11.4M267.5 762.7v11.4M262 762.9l11 11M262 773.9l11 -11M267.9 769h11.4M273.6 763.3v11.4M268.1 763.5l11 11M268.1 774.5l11 -11M274.1 779.6h11.4M279.8 773.9v11.4M274.2 774.1l11 11M274.2 785.1l11 -11M280.2 775.4h11.4M285.9 769.7v11.4M280.4 769.9l11 11M280.4 780.9l11 -11M286.4 776.5h11.4M292.1 770.8v11.4M286.6 771l11 11M286.6 782l11 -11M292.5 768.4h11.4M298.2 762.7v11.4M292.7 762.9l11 11M292.7 773.9l11 -11M298.7 783.4h11.4M304.4 777.7v11.4M298.9 777.9l11 11M298.9 788.9l11 -11M304.8 794.4h11.4M310.5 788.7v11.4M305 788.9l11 11M305 799.9l11 -11M310.9 788.1h11.4M316.6 782.4v11.4M311.1 782.6l11 11M311.1 793.6l11 -11M317.1 755.6h11.4M322.8 749.9v11.4M317.3 750.1l11 11M317.3 761.1l11 -11M323.3 715.5h11.4M329 709.8v11.4M323.5 710l11 11M323.5 721l11 -11M329.4 684.2h11.4M335.1 678.5v11.4M329.6 678.7l11 11M329.6 689.7l11 -11M335.6 637h11.4M341.2 631.3v11.4M335.8 631.5l11 11M335.8 642.5l11 -11M341.7 592.5h11.4M347.4 586.8v11.4M341.9 587l11 11M341.9 598l11 -11M347.9 562h11.4M353.6 556.3v11.4M348.1 556.5l11 11M348.1 567.5l11 -11M354 542.5h11.4M359.7 536.8v11.4M354.2 537l11 11M354.2 548l11 -11M360.2 531.5h11.4M365.9 525.8v11.4M360.4 526l11 11M360.4 537l11 -11M366.3 541.5h11.4M372 535.8v11.4M366.5 536l11 11M366.5 547l11 -11M372.4 579h11.4M378.1 573.3v11.4M372.6 573.5l11 11M372.6 584.5l11 -11M378.6 628.5h11.4M384.3 622.8v11.4M378.8 623l11 11M378.8 634l11 -11M384.8 656.3h11.4M390.4 650.6v11.4M384.9 650.8l11 11M384.9 661.8l11 -11M390.9 700h11.4M396.6 694.3v11.4M391.1 694.5l11 11M391.1 705.5l11 -11M397.1 718.5h11.4M402.8 712.8v11.4M397.2 713l11 11M397.2 724l11 -11M403.2 737.5h11.4M408.9 731.8v11.4M403.4 732l11 11M403.4 743l11 -11M409.4 743.5h11.4M415.1 737.8v11.4M409.6 738l11 11M409.6 749l11 -11M415.5 749.8h11.4M421.2 744.1v11.4M415.7 744.3l11 11M415.7 755.3l11 -11M421.7 765.5h11.4M427.4 759.8v11.4M421.9 760l11 11M421.9 771l11 -11M427.8 757h11.4M433.5 751.3v11.4M428 751.5l11 11M428 762.5l11 -11M434 760h11.4M439.7 754.3v11.4M434.2 754.5l11 11M434.2 765.5l11 -11M440.1 761.5h11.4M445.8 755.8v11.4M440.3 756l11 11M440.3 767l11 -11M458.6 766.3h11.4M464.2 760.6v11.4M458.8 760.8l11 11M458.8 771.8l11 -11M477 673.5h11.4M482.7 667.8v11.4M477.2 668l11 11M477.2 679l11 -11M495.5 535.5h11.4M501.2 529.8v11.4M495.7 530l11 11M495.7 541l11 -11M513.9 489.5h11.4M519.6 483.8v11.4M514.1 484l11 11M514.1 495l11 -11M532.3 645.5h11.4M538 639.8v11.4M532.5 640l11 11M532.5 651l11 -11M550.8 732.5h11.4M556.5 726.8v11.4M551 727l11 11M551 738l11 -11M569.2 736.5h11.4M575 730.8v11.4M569.5 731l11 11M569.5 742l11 -11M587.7 708.5h11.4M593.4 702.8v11.4M587.9 703l11 11M587.9 714l11 -11M606.1 687.3h11.4M611.9 681.6v11.4M606.4 681.8l11 11M606.4 692.8l11 -11M624.6 640.5h11.4M630.3 634.8v11.4M624.8 635l11 11M624.8 646l11 -11M643 608.5h11.4M648.8 602.8v11.4M643.2 603l11 11M643.2 614l11 -11M661.5 596.5h11.4M667.2 590.8v11.4M661.7 591l11 11M661.7 602l11 -11M679.9 665.5h11.4M685.6 659.8v11.4M680.1 660l11 11M680.1 671l11 -11M698.4 723.5h11.4M704.1 717.8v11.4M698.6 718l11 11M698.6 729l11 -11M716.9 735.5h11.4M722.6 729.8v11.4M717.1 730l11 11M717.1 741l11 -11M735.3 729.5h11.4M741 723.8v11.4M735.5 724l11 11M735.5 735l11 -11M753.8 734.5h11.4M759.5 728.8v11.4M754 729l11 11M754 740l11 -11M772.2 661.6h11.4M777.9 655.9v11.4M772.4 656.1l11 11M772.4 667.1l11 -11M790.6 549.6h11.4M796.4 543.9v11.4M790.9 544.1l11 11M790.9 555.1l11 -11M809.1 478.4h11.4M814.8 472.7v11.4M809.3 472.9l11 11M809.3 483.9l11 -11M827.5 570.4h11.4M833.2 564.7v11.4M827.8 564.9l11 11M827.8 575.9l11 -11M846 649.6h11.4M851.7 643.9v11.4M846.2 644.1l11 11M846.2 655.1l11 -11M864.5 683.5h11.4M870.2 677.8v11.4M864.7 678l11 11M864.7 689l11 -11M882.9 685.6h11.4M888.6 679.9v11.4M883.1 680.1l11 11M883.1 691.1l11 -11M901.4 697.6h11.4M907.1 691.9v11.4M901.6 692.1l11 11M901.6 703.1l11 -11M919.8 643.2h11.4M925.5 637.5v11.4M920 637.7l11 11M920 648.7l11 -11M938.2 551.5h11.4M944 545.8v11.4M938.5 546l11 11M938.5 557l11 -11M956.7 492.5h11.4M962.4 486.8v11.4M956.9 487l11 11M956.9 498l11 -11M975.1 582.4h11.4M980.9 576.7v11.4M975.4 576.9l11 11M975.4 587.9l11 -11M993.6 652.5h11.4M999.3 646.8v11.4M993.8 647l11 11M993.8 658l11 -11M1012 693.6h11.4M1017.8 687.9v11.4M1012.2 688.1l11 11M1012.2 699.1l11 -11M1030.5 715.2h11.4M1036.2 709.5v11.4M1030.7 709.7l11 11M1030.7 720.7l11 -11M1049 713.6h11.4M1054.7 707.9v11.4M1049.2 708.1l11 11M1049.2 719.1l11 -11M1067.4 635.7h11.4M1073.1 630v11.4M1067.6 630.2l11 11M1067.6 641.2l11 -11M1085.9 568.5h11.4M1091.6 562.8v11.4M1086.1 563l11 11M1086.1 574l11 -11M1104.3 524.5h11.4M1110 518.8v11.4M1104.5 519l11 11M1104.5 530l11 -11M1122.8 612.8h11.4M1128.5 607.1v11.4M1123 607.3l11 11M1123 618.3l11 -11M1141.2 669.6h11.4M1146.9 663.9v11.4M1141.4 664.1l11 11M1141.4 675.1l11 -11M1159.7 714.4h11.4M1165.4 708.7v11.4M1159.9 708.9l11 11M1159.9 719.9l11 -11M1178.1 712.8h11.4M1183.8 707.1v11.4M1178.3 707.3l11 11M1178.3 718.3l11 -11M1196.5 715.5h11.4M1202.2 709.8v11.4M1196.8 710l11 11M1196.8 721l11 -11M1215 633.3h11.4M1220.7 627.6v11.4M1215.2 627.8l11 11M1215.2 638.8l11 -11M1233.5 498.6h11.4M1239.2 492.9v11.4M1233.7 493.1l11 11M1233.7 504.1l11 -11M1251.9 464.5h11.4M1257.6 458.8v11.4M1252.1 459l11 11M1252.1 470l11 -11M1270.3 605.5h11.4M1276 599.8v11.4M1270.5 600l11 11M1270.5 611l11 -11M1288.8 651.6h11.4M1294.5 645.9v11.4M1289 646.1l11 11M1289 657.1l11 -11M1307.2 703.6h11.4M1313 697.9v11.4M1307.5 698.1l11 11M1307.5 709.1l11 -11M1325.7 702.5h11.4M1331.4 696.8v11.4M1325.9 697l11 11M1325.9 708l11 -11M1344.2 674.5h11.4M1349.9 668.8v11.4M1344.4 669l11 11M1344.4 680l11 -11M1362.6 599h11.4M1368.3 593.3v11.4M1362.8 593.5l11 11M1362.8 604.5l11 -11M1381 503.7h11.4M1386.8 498v11.4M1381.2 498.2l11 11M1381.2 509.2l11 -11M1399.5 495.5h11.4M1405.2 489.8v11.4M1399.7 490l11 11M1399.7 501l11 -11M1436.4 663.6h11.4M1442.1 657.9v11.4M1436.6 658.1l11 11M1436.6 669.1l11 -11M1382.8 277.5h11.4M1388.5 271.8v11.4M1383 272l11 11M1383 283l11 -11" stroke="#FFA500" stroke-width="1.1" fill="none"/>
<text x="1338.7" y="285.7" text-anchor="end" font-size="24.2">NBM</text>
<path d="M218.6 738L230.2 738L224.4 748.5zM224.7 703.1L236.4 703.1L230.6 713.6zM230.8 691L242.5 691L236.7 701.5zM237 672L248.7 672L242.9 682.5zM243.2 697.2L254.8 697.2L249 707.7zM249.3 705.1L261 705.1L255.2 715.6zM255.5 704L267.2 704L261.3 714.5zM261.6 697.2L273.3 697.2L267.5 707.7zM267.8 705L279.5 705L273.6 715.5zM273.9 674.2L285.6 674.2L279.8 684.7zM280 672L291.8 672L285.9 682.5zM286.2 737L297.9 737L292.1 747.5zM292.4 742.8L304.1 742.8L298.2 753.2zM298.5 758L310.2 758L304.4 768.5zM304.6 775.9L316.4 775.9L310.5 786.4zM310.8 746.8L322.5 746.8L316.6 757.2zM316.9 791.9L328.7 791.9L322.8 802.4zM323.1 771.9L334.8 771.9L329 782.4zM329.2 749L341 749L335.1 759.5zM335.4 662L347.1 662L341.2 672.5zM341.5 633L353.2 633L347.4 643.5zM347.7 585L359.4 585L353.6 595.5zM353.9 550L365.6 550L359.7 560.5zM360 539L371.7 539L365.9 549.5zM366.1 539L377.9 539L372 549.5zM372.3 607L384 607L378.1 617.5zM378.4 673L390.2 673L384.3 683.5zM384.6 699L396.3 699L390.4 709.5zM390.8 704.5L402.5 704.5L396.6 715zM396.9 734L408.6 734L402.8 744.5zM403.1 732.2L414.8 732.2L408.9 742.7zM409.2 709L420.9 709L415.1 719.5zM415.4 673L427.1 673L421.2 683.5zM421.5 681L433.2 681L427.4 691.5zM427.6 719L439.4 719L433.5 729.5zM433.8 720L445.5 720L439.7 730.5zM439.9 729L451.7 729L445.8 739.5zM446.1 730L457.8 730L452 740.5zM452.2 731L464 731L458.1 741.5zM458.4 746L470.1 746L464.2 756.5zM464.6 752.1L476.3 752.1L470.4 762.6zM470.7 721L482.4 721L476.6 731.5zM476.9 697.2L488.6 697.2L482.7 707.7zM483 618L494.7 618L488.9 628.5zM489.1 531L500.9 531L495 541.5zM495.3 500.5L507 500.5L501.2 510.9zM501.4 492L513.1 492L507.3 502.4zM507.6 484.2L519.3 484.2L513.5 494.6zM513.8 511L525.5 511L519.6 521.5zM519.9 528L531.6 528L525.8 538.5zM526.1 608.2L537.8 608.2L531.9 618.7zM532.2 562.8L543.9 562.8L538 573.2zM538.4 549L550.1 549L544.2 559.5zM544.5 531L556.2 531L550.4 541.5zM550.6 537L562.4 537L556.5 547.5zM556.8 522L568.5 522L562.7 532.5zM562.9 529L574.6 529L568.8 539.5zM569.1 537L580.8 537L575 547.5zM575.2 514L587 514L581.1 524.5zM581.4 539L593.1 539L587.2 549.5zM587.6 497L599.3 497L593.4 507.4zM593.7 446L605.4 446L599.5 456.4zM599.9 522L611.6 522L605.7 532.5zM606 503L617.7 503L611.9 513.5zM612.1 548L623.9 548L618 558.5zM618.3 529L630 529L624.2 539.5zM624.4 531L636.1 531L630.3 541.5zM630.6 556L642.3 556L636.5 566.5zM636.8 590L648.5 590L642.6 600.5zM642.9 599L654.6 599L648.8 609.5zM649 568L660.8 568L654.9 578.5zM655.2 603L666.9 603L661.1 613.5zM661.4 597L673.1 597L667.2 607.5zM1382.7 301L1394.3 301L1388.5 311.4z" fill="#00FFFF"/>
<text x="1338.7" y="313.7" text-anchor="end" font-size="24.2">CANSAC WRF</text>
<rect x="125.5" y="84.5" width="1329.0" height="826.0" fill="none" stroke="#000" stroke-width="1"/>
</svg></body></html>
